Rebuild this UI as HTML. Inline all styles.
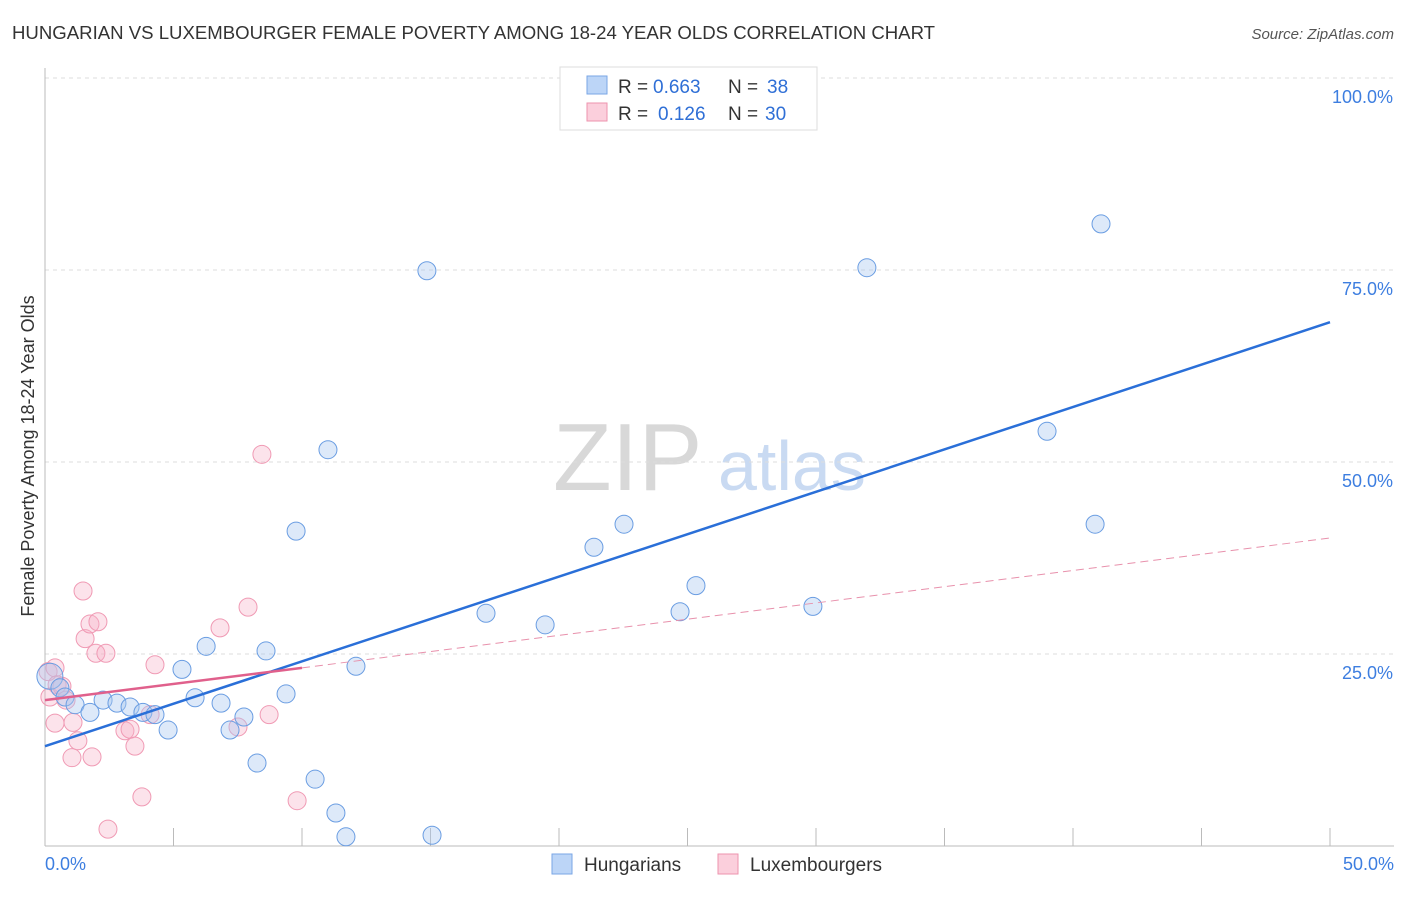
<!DOCTYPE html>
<html><head><meta charset="utf-8"><style>
body{margin:0;background:#fff;font-family:"Liberation Sans",sans-serif;}
svg text{font-family:"Liberation Sans",sans-serif;}
</style></head><body>
<svg id="chart" width="1406" height="892" viewBox="0 0 1406 892">
<text x="12" y="39" font-size="18.6" fill="#333">HUNGARIAN VS LUXEMBOURGER FEMALE POVERTY AMONG 18-24 YEAR OLDS CORRELATION CHART</text>
<text x="1394" y="39" font-size="15" fill="#555" text-anchor="end" font-style="italic">Source: ZipAtlas.com</text>
<text x="553" y="490" font-size="96" fill="#d8d8d8" font-family="Liberation Serif">ZIP</text>
<text x="718" y="490" font-size="70" fill="#c9daf2">atlas</text>
<g id="grid"></g>
<g id="axes"></g>
<g id="marks"></g>
<text transform="translate(34,456) rotate(-90)" font-size="18" fill="#333" text-anchor="middle">Female Poverty Among 18-24 Year Olds</text>
<g>
<rect x="560" y="67" width="257" height="63" fill="#fff" stroke="#ddd"/>
<rect x="587" y="76" width="20" height="18" fill="#bcd5f7" stroke="#7aa6e6"/>
<rect x="587" y="103" width="20" height="18" fill="#fbcfdc" stroke="#ee93ae"/>
<text x="618" y="93" font-size="19" fill="#333">R =</text>
<text x="653" y="93" font-size="19" fill="#2f6fd6">0.663</text>
<text x="728" y="93" font-size="19" fill="#333">N =</text>
<text x="767" y="93" font-size="19" fill="#2f6fd6">38</text>
<text x="618" y="120" font-size="19" fill="#333">R =</text>
<text x="658" y="120" font-size="19" fill="#2f6fd6">0.126</text>
<text x="728" y="120" font-size="19" fill="#333">N =</text>
<text x="765" y="120" font-size="19" fill="#2f6fd6">30</text>
</g>
<g>
<rect x="552" y="854" width="20" height="20" fill="#bcd5f7" stroke="#7aa6e6"/>
<text x="584" y="871" font-size="19" fill="#333">Hungarians</text>
<rect x="718" y="854" width="20" height="20" fill="#fbcfdc" stroke="#ee93ae"/>
<text x="750" y="871" font-size="19" fill="#333">Luxembourgers</text>
</g>
</svg>
<script>
const hunX=[0.19,0.58,0.78,1.17,1.75,2.26,2.80,3.31,3.81,4.28,4.79,5.33,5.84,6.27,6.85,7.20,7.74,8.25,8.60,9.38,9.77,10.51,11.01,11.32,11.71,12.10,14.86,15.06,17.16,19.46,21.36,22.53,24.71,25.33,29.88,31.98,38.99,40.86,41.09];
const hunY=[22.1,20.6,19.4,18.4,17.4,19.0,18.6,18.1,17.4,17.1,15.1,23.0,19.3,26.0,18.6,15.1,16.8,10.8,25.4,19.8,41.0,8.7,51.6,4.3,1.2,23.4,74.9,1.4,30.3,28.8,38.9,41.9,30.5,33.9,31.2,75.3,54.0,41.9,81.0];
const luxX=[0.12,0.39,0.19,0.47,0.66,0.82,0.39,1.09,1.05,1.28,1.48,1.56,1.75,2.06,1.98,2.37,1.83,2.45,3.11,3.31,3.50,3.77,4.28,4.09,6.81,7.51,7.90,8.44,8.72,9.81];
const luxY=[22.7,23.2,19.4,21.0,20.8,19.0,16.0,16.1,11.5,13.7,33.2,27.0,28.9,29.2,25.1,25.1,11.6,2.2,15.0,15.2,13.0,6.4,23.6,17.1,28.4,15.5,31.1,51.0,17.1,5.9];
const hunLine=[[0,13.0],[50,68.2]];
const luxLine=[[0,19.0],[10,23.2]];
const luxDash=[[10,23.2],[50,40.1]];
const yTicks=[25,50,75,100];
const yTickLabels=["25.0%","50.0%","75.0%","100.0%"];
const xLabels=["0.0%","50.0%"];
const NS="http://www.w3.org/2000/svg";
const sx=v=>45+v/50*1285;
const sy=v=>846-v/100*768;
function mk(tag,attrs,parent){const e=document.createElementNS(NS,tag);for(const k in attrs)e.setAttribute(k,attrs[k]);parent.appendChild(e);return e;}
const grid=document.getElementById('grid'),axes=document.getElementById('axes'),marks=document.getElementById('marks');
yTicks.forEach((t,i)=>{
 const l=mk('line',{x1:45,x2:1394,y1:sy(t),y2:sy(t),stroke:'#ddd','stroke-dasharray':'4,4'},grid);
 
 
 const tx=mk('text',{x:1393,y:sy(t)+25,'font-size':18,fill:'#3d7ee0','text-anchor':'end'},axes);
 tx.textContent=yTickLabels[i];
 
 
});
mk('line',{x1:45,x2:45,y1:68,y2:846,stroke:'#bbb'},axes);
mk('line',{x1:45,x2:1394,y1:846,y2:846,stroke:'#bbb'},axes);
for(let i=1;i<=10;i++){const l=mk('line',{x1:sx(i*5),x2:sx(i*5),y1:828,y2:846,stroke:'#bbb'},axes);
 
 }
const xl0=mk('text',{x:45,y:870,'font-size':18,fill:'#3d7ee0'},axes);xl0.textContent=xLabels[0];


const xl1=mk('text',{x:1394,y:870,'font-size':18,fill:'#3d7ee0','text-anchor':'end'},axes);xl1.textContent=xLabels[1];


function dots(xs,ys,fill,stroke,name){xs.forEach((x,i)=>{
 const c=mk('circle',{cx:sx(x),cy:sy(ys[i]),r:i===0&&name==='hungarian-point'?13:9,fill:fill,stroke:stroke,'stroke-width':1},marks);
 
 });}
dots(luxX,luxY,'rgba(247,176,198,0.35)','#f09ab4','luxembourger-point');
dots(hunX,hunY,'rgba(170,200,240,0.4)','#6a9de2','hungarian-point');
const dl=mk('line',{x1:sx(luxDash[0][0]),y1:sy(luxDash[0][1]),x2:sx(luxDash[1][0]),y2:sy(luxDash[1][1]),stroke:'#e891ac','stroke-width':1,'stroke-dasharray':'8,5'},marks);


const hl=mk('line',{x1:sx(hunLine[0][0]),y1:sy(hunLine[0][1]),x2:sx(hunLine[1][0]),y2:sy(hunLine[1][1]),stroke:'#2a6fd8','stroke-width':2.5},marks);


const ll=mk('line',{x1:sx(luxLine[0][0]),y1:sy(luxLine[0][1]),x2:sx(luxLine[1][0]),y2:sy(luxLine[1][1]),stroke:'#e0608c','stroke-width':2.5},marks);


</script>
</body></html>
